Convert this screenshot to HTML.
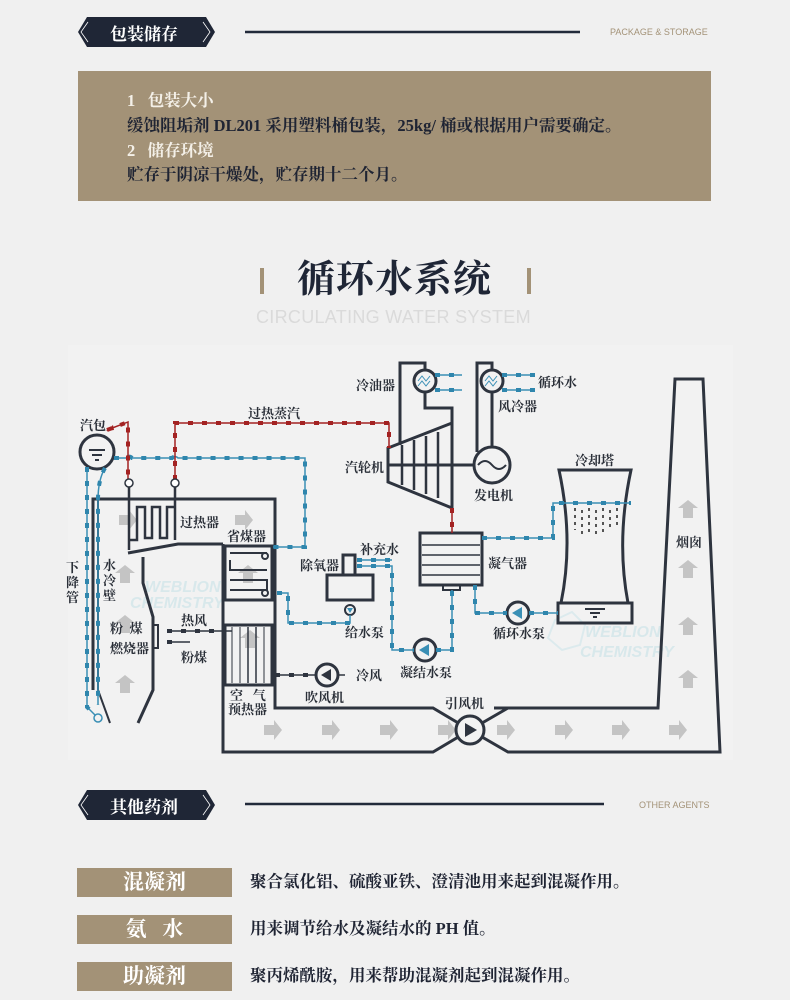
<!DOCTYPE html>
<html><head><meta charset="utf-8"><style>
body{margin:0;width:790px;height:1000px;background:#f0f0f0;overflow:hidden;position:relative;font-family:"Liberation Serif","Noto Serif CJK SC",serif}
.a{position:absolute}
.tx{font-weight:bold;white-space:nowrap}
</style></head><body>
<svg class="a" style="left:0;top:0" width="790" height="1000">
 <polygon points="87,17 206,17 215,32 206,47 87,47 78,32" fill="#1f2636"/>
 <polyline points="88,22 81,32 88,42" fill="none" stroke="#fff" stroke-width="0.8"/>
 <polyline points="203,22 210,32 203,42" fill="none" stroke="#fff" stroke-width="0.8"/>
 <line x1="245" y1="32" x2="580" y2="32" stroke="#222a3a" stroke-width="2.5"/>
 <rect x="78" y="71" width="633" height="130" fill="#a39277"/>
 <rect x="260" y="268" width="4" height="26" fill="#a39277"/>
 <rect x="527" y="268" width="4" height="26" fill="#a39277"/>
 <polygon points="87,790 206,790 215,805 206,820 87,820 78,805" fill="#1f2636"/>
 <polyline points="88,795 81,805 88,815" fill="none" stroke="#fff" stroke-width="0.8"/>
 <polyline points="203,795 210,805 203,815" fill="none" stroke="#fff" stroke-width="0.8"/>
 <line x1="245" y1="804" x2="604" y2="804" stroke="#222a3a" stroke-width="2.5"/>
 <rect x="77" y="868" width="155" height="29" fill="#a39277"/>
 <rect x="77" y="915" width="155" height="29" fill="#a39277"/>
 <rect x="77" y="962" width="155" height="29" fill="#a39277"/>
</svg>
<div class="a tx" style="left:110px;top:20px;font-size:17px;color:#fff">包装储存</div>
<div class="a" style="left:610px;top:27px;font-size:9px;color:#a39277;font-family:'Liberation Sans',sans-serif">PACKAGE &amp; STORAGE</div>
<div class="a tx" style="left:127px;top:88px;font-size:16.5px;line-height:25px;color:#f4f0e8">1&nbsp;&nbsp;&nbsp;包装大小</div>
<div class="a tx" style="left:127px;top:113px;font-size:16.5px;line-height:25px;color:#1f2433">缓蚀阻垢剂 DL201 采用塑料桶包装，25kg/ 桶或根据用户需要确定。</div>
<div class="a tx" style="left:127px;top:138px;font-size:16.5px;line-height:25px;color:#f4f0e8">2&nbsp;&nbsp;&nbsp;储存环境</div>
<div class="a tx" style="left:127px;top:162px;font-size:16.5px;line-height:25px;color:#1f2433">贮存于阴凉干燥处，贮存期十二个月。</div>
<div class="a tx" style="left:297px;top:256px;font-size:38px;line-height:48px;color:#1f2636;letter-spacing:1px">循环水系统</div>
<div class="a" style="left:256px;top:307px;font-size:18px;color:#dadada;font-family:'Liberation Sans',sans-serif;letter-spacing:0.3px">CIRCULATING WATER SYSTEM</div>

<svg class="a" style="left:0;top:0" width="790" height="1000" font-family="Liberation Serif,Noto Serif CJK SC,serif" font-weight="bold">
 <defs>
  <g id="ar"><polygon points="-8,-5 2,-5 2,-10 10,0 2,10 2,5 -8,5" fill="#c4c4c4"/></g>
  <g id="au"><polygon points="-5,8 -5,-2 -10,-2 0,-10 10,-2 5,-2 5,8" fill="#c4c4c4"/></g>
 </defs>
 <rect x="68" y="345" width="665" height="415" fill="#f2f2f2"/>
 <use href="#ar" x="127" y="520"/><use href="#ar" x="243" y="520"/>
 <use href="#au" x="125" y="575"/><use href="#au" x="125" y="625"/><use href="#au" x="125" y="685"/>
 <use href="#ar" x="272" y="730"/><use href="#ar" x="330" y="730"/><use href="#ar" x="388" y="730"/><use href="#ar" x="446" y="730"/>
 <use href="#ar" x="505" y="730"/><use href="#ar" x="563" y="730"/><use href="#ar" x="620" y="730"/><use href="#ar" x="677" y="730"/>
 <use href="#au" x="688" y="510"/><use href="#au" x="688" y="570"/><use href="#au" x="688" y="627"/><use href="#au" x="688" y="680"/>
 <use href="#au" x="248" y="575"/><use href="#au" x="250" y="640"/>
 <g opacity="0.5">
 <text x="145" y="592" font-family="Liberation Sans,sans-serif" font-style="italic" font-size="16" fill="#bfe0e6">WEBLION</text>
 <text x="130" y="608" font-family="Liberation Sans,sans-serif" font-style="italic" font-size="16" fill="#bfe0e6">CHEMISTRY</text>
 <text x="585" y="637" font-family="Liberation Sans,sans-serif" font-style="italic" font-size="16" fill="#bfe0e6">WEBLION</text>
 <text x="580" y="657" font-family="Liberation Sans,sans-serif" font-style="italic" font-size="16" fill="#bfe0e6">CHEMISTRY</text>
 <polygon points="555,620 572,612 585,625 580,645 562,650 548,638" fill="none" stroke="#c8e4ea" stroke-width="2"/>
 </g>

 <g fill="none" stroke="#2e343f" stroke-width="3">
  <circle cx="97" cy="452" r="17"/>
  <polyline points="93,690 93,499 275,499 275,708 433,708 470,730 433,752 223,752 223,544"/>
  <polyline points="494,708 658,708 675,379 703,379 720,752 508,752 470,730 508,708"/>
  <polyline points="98,500 98,690 110,723" stroke-width="2"/>
  <polyline points="128,553 178,544 223,544"/>
  <polyline points="143,557 143,583 153,617 153,690 138,723"/>
  <rect x="153" y="625" width="5" height="23" stroke-width="2"/>
  <rect x="225" y="546" width="47" height="54"/>
  <rect x="225" y="625" width="47" height="60"/>
  <polyline points="129,487 129,550" stroke-width="2.5"/>
  <polyline points="175,487 175,540" stroke-width="2.5"/>
  <polyline points="129,540 137,540 137,507 145,507 145,538 152,538 152,507 160,507 160,538 167,538 167,507 175,507" stroke-width="2.5"/>
  <polyline points="400,445 400,363 425,363 425,370"/>
  <polyline points="425,392 425,408 452,408 452,508 388,482 388,448 452,423"/>
  <line x1="388" y1="465" x2="474" y2="465"/>
  <line x1="402" y1="445" x2="402" y2="485" stroke-width="2.5"/>
  <line x1="414" y1="440" x2="414" y2="490" stroke-width="2.5"/>
  <line x1="426" y1="436" x2="426" y2="494" stroke-width="2.5"/>
  <line x1="438" y1="432" x2="438" y2="498" stroke-width="2.5"/>
  <circle cx="425" cy="381" r="11"/>
  <polyline points="477,452 477,363 492,363 492,370"/>
  <line x1="492" y1="392" x2="492" y2="447"/>
  <circle cx="492" cy="381" r="11"/>
  <circle cx="492" cy="465" r="18"/>
  <rect x="420" y="533" width="62" height="52"/>
  <rect x="443" y="585" width="17" height="5" stroke-width="2"/>
  <rect x="343" y="555" width="12" height="20"/>
  <rect x="327" y="575" width="46" height="25"/>
  <path d="M559,470 L631,470 Q616,540 628,603 L561,603 Q574,540 559,470Z"/>
  <rect x="558" y="603" width="74" height="20"/>
  <circle cx="350" cy="610" r="5" stroke-width="2"/>
  <circle cx="425" cy="650" r="11"/>
  <circle cx="518" cy="613" r="11"/>
  <circle cx="327" cy="675" r="11"/>
  <circle cx="470" cy="730" r="14" fill="#f2f2f2"/>
 </g>
 <g stroke="#2e343f" stroke-width="2" fill="none">
  <line x1="89" y1="450" x2="105" y2="450"/><line x1="92" y1="455" x2="102" y2="455"/><line x1="95" y1="460" x2="99" y2="460"/>
  <path d="M230,553 h37 M230,560 v10 h37 M230,580 h37 v10 h-37"/>
  <circle cx="265" cy="556" r="3"/><circle cx="265" cy="593" r="3"/>
  <line x1="232" y1="627" x2="232" y2="683" stroke-width="1"/><line x1="240" y1="627" x2="240" y2="683" stroke-width="1"/><line x1="248" y1="627" x2="248" y2="683" stroke-width="1.5"/><line x1="256" y1="627" x2="256" y2="683" stroke-width="1.5"/><line x1="264" y1="627" x2="264" y2="683" stroke-width="1"/>
  <line x1="422" y1="545" x2="480" y2="545" stroke-width="1.5"/><line x1="422" y1="555" x2="480" y2="555" stroke-width="1.5"/><line x1="422" y1="565" x2="480" y2="565" stroke-width="1.5"/><line x1="422" y1="575" x2="480" y2="575" stroke-width="1.5"/>
  <path d="M418,381 l4,-5 4,5 4,-5 M418,386 l4,-5 4,5 4,-5" stroke="#3a8fb5" stroke-width="1"/>
  <path d="M485,381 l4,-5 4,5 4,-5 M485,386 l4,-5 4,5 4,-5" stroke="#3a8fb5" stroke-width="1"/>
  <path d="M478,465 q7,-8 14,0 q7,8 14,0"/>
  <line x1="585" y1="609" x2="605" y2="609"/><line x1="590" y1="613" x2="600" y2="613"/><line x1="593" y1="617" x2="597" y2="617"/>
 </g>
 <g fill="#2e343f">
  <polygon points="522,607 522,619 512,613" fill="#3a8fb5"/>
  <polygon points="429,644 429,656 419,650" fill="#3a8fb5"/>
  <polygon points="331,669 331,681 321,675"/>
  <polygon points="465,723 465,737 477,730"/>
  <polygon points="347,608 353,608 350,613" fill="#3a8fb5"/>
 </g>
 <g stroke="#555" stroke-width="2" stroke-dasharray="3 4">
  <line x1="575" y1="508" x2="575" y2="530"/><line x1="582" y1="510" x2="582" y2="535"/><line x1="589" y1="508" x2="589" y2="532"/><line x1="596" y1="510" x2="596" y2="535"/><line x1="603" y1="508" x2="603" y2="532"/><line x1="610" y1="510" x2="610" y2="530"/><line x1="617" y1="508" x2="617" y2="525"/>
 </g>
 <g fill="none" stroke="#3a8fb5" stroke-width="1.5">
  <path id="b1" d="M114,458 H126 a4,4 0 0 1 6,0 H172 a4,4 0 0 1 6,0 H305 V547 H273"/>
  <path id="b2" d="M277,593 H288 V623 H350 V615"/>
  <path id="b3" d="M357,560 H392 M357,566 H392 V650 H414 M436,650 H452 V590"/>
  <path id="b4" d="M482,538 H553 V503 H631"/>
  <path id="b5" d="M475,585 V613 H507 M529,613 H558"/>
  <path id="b6" d="M435,375 H462 M435,390 H462 M502,375 H535 M502,390 H535"/>
  <path id="b7" d="M87,467 V707 L98,718 M105,468 Q98,480 98,500 V705"/>
 </g>
 <g fill="none" stroke="#2f86ad" stroke-width="4" stroke-dasharray="5 9">
  <use href="#b1"/><use href="#b2"/><use href="#b3"/><use href="#b4"/><use href="#b5"/><use href="#b6"/><use href="#b7"/>
 </g>
 <circle cx="98" cy="718" r="4" fill="#f2f2f2" stroke="#3a8fb5" stroke-width="1.5"/>
 <g fill="none" stroke="#a32222" stroke-width="1.5">
  <path id="r1" d="M107,430 L128,422 V480"/>
  <path id="r2" d="M175,480 V423 H389 V448"/>
  <path id="r3" d="M452,508 V533"/>
 </g>
 <g fill="none" stroke="#a32222" stroke-width="4" stroke-dasharray="5 9"><use href="#r1"/><use href="#r2"/><use href="#r3"/></g>
 <polygon points="106,431 113,425 114,430" fill="#a32222"/>
 <circle cx="129" cy="483" r="4" fill="#fff" stroke="#2e343f" stroke-width="1.5"/>
 <circle cx="175" cy="483" r="4" fill="#fff" stroke="#2e343f" stroke-width="1.5"/>
 <g stroke="#2e343f" stroke-width="1.5"><line x1="167" y1="631" x2="232" y2="631"/><line x1="167" y1="642" x2="190" y2="642"/><line x1="272" y1="675" x2="316" y2="675"/><line x1="338" y1="675" x2="345" y2="675"/></g>
 <g stroke="#2e343f" stroke-width="4" stroke-dasharray="5 9"><line x1="167" y1="631" x2="225" y2="631"/><line x1="167" y1="642" x2="180" y2="642"/><line x1="275" y1="675" x2="316" y2="675"/></g>
 <g fill="#2a2f38" font-size="13">
  <text x="80" y="430">汽包</text>
  <text x="248" y="418">过热蒸汽</text>
  <text x="356" y="390">冷油器</text>
  <text x="538" y="387">循环水</text>
  <text x="498" y="411">风冷器</text>
  <text x="345" y="472">汽轮机</text>
  <text x="474" y="500">发电机</text>
  <text x="575" y="465">冷却塔</text>
  <text x="180" y="527">过热器</text>
  <text x="227" y="541">省煤器</text>
  <text x="488" y="568">凝气器</text>
  <text x="300" y="570">除氧器</text>
  <text x="360" y="554">补充水</text>
  <text x="345" y="637">给水泵</text>
  <text x="493" y="638">循环水泵</text>
  <text x="400" y="677">凝结水泵</text>
  <text x="356" y="680">冷风</text>
  <text x="305" y="702">吹风机</text>
  <text x="445" y="708">引风机</text>
  <text x="181" y="625">热风</text>
  <text x="181" y="662">粉煤</text>
  <text x="110" y="633">粉&#160;&#160;煤</text>
  <text x="110" y="653">燃烧器</text>
  <text x="230" y="700">空&#160;&#160;&#160;气</text>
  <text x="228" y="714">预热器</text>
  <text x="66" y="572">下</text><text x="66" y="587">降</text><text x="66" y="602">管</text>
  <text x="103" y="570">水</text><text x="103" y="585">冷</text><text x="103" y="600">壁</text>
  <text x="676" y="547">烟</text><text x="689" y="547">囱</text>
 </g>
</svg>

<div class="a tx" style="left:110px;top:793px;font-size:17px;color:#fff">其他药剂</div>
<div class="a" style="left:639px;top:800px;font-size:9px;color:#a39277;font-family:'Liberation Sans',sans-serif">OTHER AGENTS</div>
<div class="a tx" style="left:77px;top:868px;width:155px;text-align:center;font-size:21px;line-height:29px;color:#fff">混凝剂</div>
<div class="a tx" style="left:77px;top:915px;width:155px;text-align:center;font-size:21px;line-height:29px;color:#fff">氨&#160;&#160;&#160;水</div>
<div class="a tx" style="left:77px;top:962px;width:155px;text-align:center;font-size:21px;line-height:29px;color:#fff">助凝剂</div>
<div class="a tx" style="left:250px;top:871px;font-size:16.5px;line-height:22px;color:#1f2433">聚合氯化铝、硫酸亚铁、澄清池用来起到混凝作用。</div>
<div class="a tx" style="left:250px;top:918px;font-size:16.5px;line-height:22px;color:#1f2433">用来调节给水及凝结水的 PH 值。</div>
<div class="a tx" style="left:250px;top:965px;font-size:16.5px;line-height:22px;color:#1f2433">聚丙烯酰胺，用来帮助混凝剂起到混凝作用。</div>
</body></html>
